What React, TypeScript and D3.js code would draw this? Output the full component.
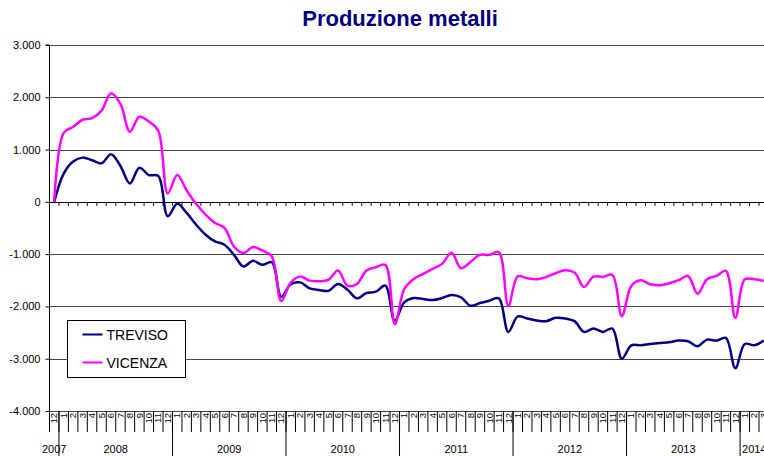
import React, { useEffect, useRef } from "react";
import * as d3 from "d3";

const years = ["2007", "2008", "2009", "2010", "2011", "2012", "2013", "2014"];
const monthsPerYear = [1, 12, 12, 12, 12, 12, 12, 3];
const firstMonth = [12, 1, 1, 1, 1, 1, 1, 1];

const treviso = [
  0, 540, 770, 846, 795, 737, 910, 686, 353, 654, 513, 494,
  -276, -38, -212, -436, -628, -756, -820, -1013, -1237, -1128, -1205, -1154,
  -1814, -1575, -1540, -1654, -1686, -1699, -1570, -1680, -1846, -1744, -1718, -1603,
  -2275, -1923, -1840, -1860, -1878, -1840, -1782, -1827, -1987, -1936, -1890, -1846,
  -2487, -2192, -2230, -2269, -2282, -2218, -2230, -2282, -2487, -2423, -2487, -2423,
  -3000, -2744, -2744, -2718, -2699, -2686, -2654, -2667, -2763, -2635, -2654, -2603,
  -3180, -2718, -2744, -2654,
];

const vicenza = [
  0, 1320, 1436, 1570, 1600, 1744, 2077, 1872, 1340, 1628, 1538, 1360,
  160, 513, 218, -38, -244, -404, -500, -853, -980, -865, -930, -1045,
  -1897, -1545, -1430, -1506, -1519, -1487, -1314, -1603, -1570, -1314, -1250, -1205,
  -2340, -1667, -1474, -1378, -1282, -1186, -974, -1270, -1150, -1013, -1013, -962,
  -1987, -1423, -1461, -1481, -1436, -1365, -1308, -1353, -1628, -1430, -1436, -1397,
  -2186, -1609, -1500, -1577, -1596, -1558, -1500, -1417, -1756, -1481, -1417, -1320,
  -2218, -1481, -1481, -1513,
];

const yTicks = [3000, 2000, 1000, 0, -1000, -2000, -3000, -4000];

const seriesNames = ["TREVISO", "VICENZA"];
const seriesColors = ["#000080", "#FF00FF"];

export default function App() {
  const ref = useRef<SVGSVGElement | null>(null);

  useEffect(() => {
    const svg = d3.select(ref.current);
    svg.selectAll("*").remove();

    const W = 764;
    const H = 456;
    const left = 49.5;
    const bandW = 9.46;
    const nCat = treviso.length;
    const font = "Liberation Sans, Arial, sans-serif";

    const x = d3
      .scaleBand<number>()
      .domain(d3.range(nCat))
      .range([left, left + nCat * bandW])
      .padding(0);
    const y = d3.scaleLinear().domain([-4000, 3000]).range([411, 45]);

    const loc = d3.formatLocale({
      decimal: ",",
      thousands: ".",
      grouping: [3],
      currency: ["", ""],
      minus: "-",
    });
    const fmt = loc.format(",");

    svg.append("rect").attr("width", W).attr("height", H).attr("fill", "#fff");

    // title
    svg
      .append("text")
      .attr("x", 400)
      .attr("y", 26)
      .attr("text-anchor", "middle")
      .attr("font-family", font)
      .attr("font-weight", "bold")
      .attr("font-size", 22)
      .attr("fill", "#000080")
      .text("Produzione metalli");

    // gridlines
    svg
      .append("g")
      .selectAll("line")
      .data(yTicks)
      .join("line")
      .attr("x1", left)
      .attr("x2", W)
      .attr("y1", (d) => Math.round(y(d)) + 0.5)
      .attr("y2", (d) => Math.round(y(d)) + 0.5)
      .attr("stroke", (d) => (d === 0 ? "#000" : "#444"))
      .attr("stroke-width", 1);

    // y axis
    const yAxis = d3
      .axisLeft(y)
      .tickValues(yTicks)
      .tickSize(4)
      .tickFormat((d) => fmt(d as number));
    const gy = svg
      .append("g")
      .attr("transform", `translate(${left},0)`)
      .call(yAxis);
    gy.select(".domain").attr("stroke", "#000").attr("d", `M-4,${y(3000)}H0V${y(-4000)}`);
    gy.selectAll(".tick line").attr("stroke", "#000");
    gy.selectAll(".tick text")
      .attr("font-family", font)
      .attr("font-size", 11)
      .attr("fill", "#000")
      .attr("x", -9);

    // zero axis tick marks
    const boundaries = d3.range(1, nCat).map((i) => x(i) as number);
    svg
      .append("g")
      .selectAll("line")
      .data(boundaries)
      .join("line")
      .attr("x1", (d) => d)
      .attr("x2", (d) => d)
      .attr("y1", y(0))
      .attr("y2", y(0) + 4)
      .attr("stroke", "#000");

    // category labels at bottom
    const months: { label: string; idx: number }[] = [];
    const yearSpans: { label: string; start: number; end: number }[] = [];
    let idx = 0;
    years.forEach((yr, k) => {
      const start = idx;
      for (let m = 0; m < monthsPerYear[k]; m++) {
        months.push({ label: String(firstMonth[k] + m), idx });
        idx++;
      }
      yearSpans.push({ label: yr, start, end: idx });
    });

    const bottom = y(-4000);
    const gm = svg.append("g");
    gm.selectAll("line")
      .data(d3.range(0, nCat + 1))
      .join("line")
      .attr("x1", (i) => left + i * bandW)
      .attr("x2", (i) => left + i * bandW)
      .attr("y1", bottom)
      .attr("y2", bottom + 21)
      .attr("stroke", "#000");
    gm.selectAll("text")
      .data(months)
      .join("text")
      .attr(
        "transform",
        (d) => `translate(${(x(d.idx) as number) + bandW / 2 + 3.2},${bottom + 2}) rotate(-90)`
      )
      .attr("text-anchor", "end")
      .attr("font-family", font)
      .attr("font-size", 9.5)
      .attr("fill", "#000")
      .text((d) => d.label);

    const gyr = svg.append("g");
    gyr.selectAll("line")
      .data(yearSpans.slice(1))
      .join("line")
      .attr("x1", (d) => x(d.start) as number)
      .attr("x2", (d) => x(d.start) as number)
      .attr("y1", bottom)
      .attr("y2", H)
      .attr("stroke", "#000");
    gyr.selectAll("text")
      .data(yearSpans)
      .join("text")
      .attr("x", (d) => ((x(d.start) as number) + left + d.end * bandW) / 2)
      .attr("y", 453)
      .attr("text-anchor", "middle")
      .attr("font-family", font)
      .attr("font-size", 11)
      .attr("fill", "#000")
      .text((d) => d.label);

    // lines
    const line = d3
      .line<number>()
      .x((_, i) => (x(i) as number) + bandW / 2)
      .y((d) => y(d))
      .curve(d3.curveCatmullRom.alpha(0.5));

    [treviso, vicenza].forEach((s, k) => {
      svg
        .append("path")
        .datum(s)
        .attr("d", line)
        .attr("fill", "none")
        .attr("stroke", seriesColors[k])
        .attr("stroke-width", 2.5)
        .attr("stroke-linejoin", "round");
    });

    // legend
    const lg = svg.append("g").attr("transform", "translate(67.5,320.5)");
    lg.append("rect")
      .attr("width", 118)
      .attr("height", 57)
      .attr("fill", "#fff")
      .attr("stroke", "#000");
    seriesNames.forEach((nm, k) => {
      const cy = 14 + k * 28;
      lg.append("line")
        .attr("x1", 15)
        .attr("x2", 35)
        .attr("y1", cy)
        .attr("y2", cy)
        .attr("stroke", seriesColors[k])
        .attr("stroke-width", 2);
      lg.append("text")
        .attr("x", 39)
        .attr("y", cy + 5)
        .attr("font-family", font)
        .attr("font-size", 14)
        .attr("fill", "#000")
        .text(nm);
    });
  }, []);

  return (
    <svg
      ref={ref}
      width={764}
      height={456}
      style={{ position: "fixed", left: 0, top: 0, display: "block" }}
    />
  );
}
